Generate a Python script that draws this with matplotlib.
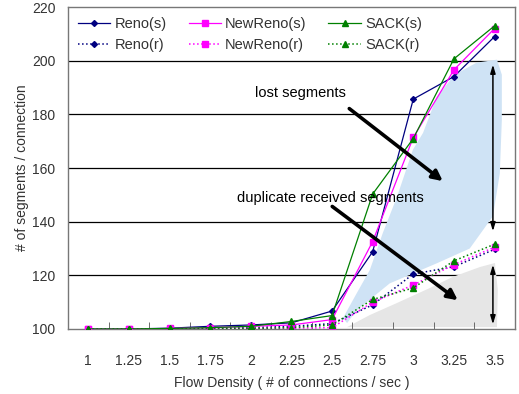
import matplotlib

matplotlib.use("Agg")

import matplotlib.pyplot as plt
from matplotlib.patches import Polygon

# ---- data ----
densities = ["1", "1.25", "1.5", "1.75", "2", "2.25", "2.5", "2.75", "3", "3.25", "3.5"]

reno_s = [100, 100, 100.3, 101, 101.5, 102.3, 106.7, 128.8, 185.7, 194.1, 209]
newreno_s = [100, 100, 100.2, 100.5, 101, 101.5, 103.5, 132.6, 171.4, 196.6, 212]
sack_s = [100, 100, 100.2, 100.5, 101, 102.8, 105, 150.3, 171, 200.7, 213]

reno_r = [100, 100, 100, 100.3, 100.5, 101, 102, 109, 120.5, 123.2, 129.7]
newreno_r = [100, 100, 100, 100, 100.2, 100.3, 100.5, 110, 116.4, 124, 130.5]
sack_r = [100, 100, 100, 100, 100.2, 100.5, 101.5, 111, 115.3, 125.4, 131.6]

# shaded areas (category position, value)
lost_area = [(10.56, 200.4), (10.06, 199.3), (9.52, 194.8), (9.08, 186.6),
             (8.74, 173.1), (8.49, 166.8), (8.10, 149.3), (7.75, 135.8),
             (7.43, 122.0), (7.11, 113.4), (6.77, 104.1), (6.87, 102.2),
             (7.11, 107.0), (7.92, 117.0), (9.08, 124.5), (9.89, 130.0),
             (10.46, 142.0), (10.63, 158.0), (10.68, 178.0), (10.68, 194.8)]
dup_area = [(6.87, 100.7), (7.43, 105.2), (8.10, 109.7), (8.91, 115.3),
            (9.47, 119.4), (10.14, 123.1), (10.51, 124.6), (10.58, 114.6),
            (10.56, 100.7)]

plt.rcParams["font.family"] = ["Liberation Sans", "DejaVu Sans"]
TXT = "#333333"

fig = plt.figure(figsize=(5.19, 3.94), dpi=100)
ax = fig.add_axes([0.131, 0.165, 0.861, 0.817])

x = [i + 0.5 for i in range(len(densities))]

ax.add_patch(Polygon(lost_area, closed=True, facecolor="#cfe3f5", edgecolor="none", zorder=1))
ax.add_patch(Polygon(dup_area, closed=True, facecolor="#e6e6e6", edgecolor="none", zorder=1))

for v in range(120, 220, 20):
    ax.axhline(v, color="black", lw=0.9, zorder=0.5)

ax.plot(x, reno_s, "-", color="#000080", marker="D", ms=3, lw=0.9, label="Reno(s)", zorder=3)
ax.plot(x, reno_r, ":", color="#000080", marker="D", ms=3, lw=1.1, label="Reno(r)", zorder=3)
ax.plot(x, newreno_s, "-", color="#ff00ff", marker="s", ms=4, lw=0.9, label="NewReno(s)", zorder=3)
ax.plot(x, newreno_r, ":", color="#ff00ff", marker="s", ms=4, lw=1.1, label="NewReno(r)", zorder=3)
ax.plot(x, sack_s, "-", color="#008000", marker="^", ms=4, lw=0.9, label="SACK(s)", zorder=3)
ax.plot(x, sack_r, ":", color="#008000", marker="^", ms=4, lw=1.1, label="SACK(r)", zorder=3)

# annotations
ax.text(5.71, 188.1, "lost segments", ha="center", va="center", fontsize=10.5, color="black")
ax.annotate("", xy=(9.28, 154.5), xytext=(6.87, 182.8),
            arrowprops=dict(arrowstyle="-|>,head_length=0.6,head_width=0.3", lw=2.6, color="black"))
ax.text(6.45, 148.9, "duplicate received segments", ha="center", va="center", fontsize=10.5, color="black")
ax.annotate("", xy=(9.65, 110.1), xytext=(6.45, 146.3),
            arrowprops=dict(arrowstyle="-|>,head_length=0.6,head_width=0.3", lw=2.6, color="black"))
ax.annotate("", xy=(10.46, 135.4), xytext=(10.46, 199.6),
            arrowprops=dict(arrowstyle="<|-|>,head_length=0.5,head_width=0.15", lw=1.1, color="black"))
ax.annotate("", xy=(10.46, 100.7), xytext=(10.46, 125.0),
            arrowprops=dict(arrowstyle="<|-|>,head_length=0.5,head_width=0.15", lw=1.1, color="black"))

ax.set_xlim(0, len(densities))
ax.set_ylim(100, 220)
ax.set_xticks(x)
ax.set_xticklabels(densities)
ax.set_xticks(range(1, len(densities)), minor=True)
ax.tick_params(axis="x", which="major", length=0, pad=18, labelsize=10, labelcolor=TXT)
ax.tick_params(axis="x", which="minor", direction="in", length=5, color="#555555")
ax.set_yticks(range(100, 221, 20))
ax.tick_params(axis="y", length=0, pad=9, labelsize=10, labelcolor=TXT)

for s in ax.spines.values():
    s.set_color("#777777")
    s.set_linewidth(1)

ax.set_xlabel("Flow Density ( # of connections / sec )", fontsize=10, color=TXT, labelpad=6)
ax.set_ylabel("# of segments / connection", fontsize=10, color=TXT, labelpad=2)

leg = ax.legend(ncol=3, loc="upper left", bbox_to_anchor=(0.0, 1.0), frameon=False,
                fontsize=10.5, handlelength=2.2, handletextpad=0.3, columnspacing=1.5,
                labelspacing=0.45, borderaxespad=0.3)
for t in leg.get_texts():
    t.set_color(TXT)

fig.savefig("out.png", dpi=100)
